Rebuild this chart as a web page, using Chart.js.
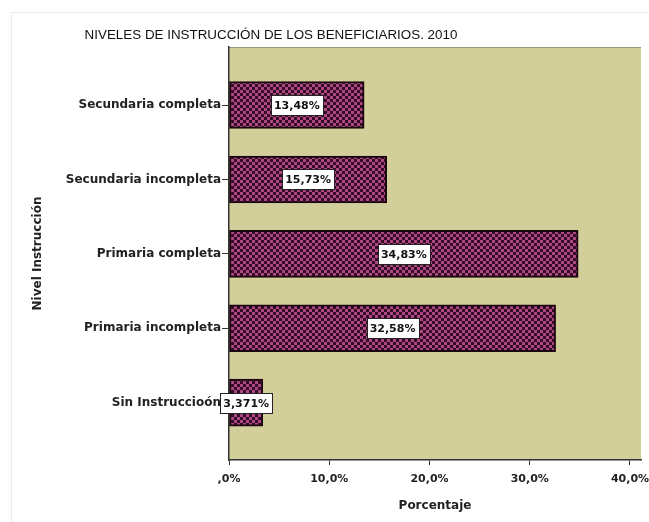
<!DOCTYPE html>
<html>
<head>
<meta charset="utf-8">
<script src="https://cdn.jsdelivr.net/npm/chart.js@4"></script>
<style>
  body { margin: 0; background: #fff; }
</style>
</head>
<body>
<canvas id="chart" width="649" height="522"></canvas>
<script>
// data, top bar first
const categories = [
  "Secundaria completa",
  "Secundaria incompleta",
  "Primaria completa",
  "Primaria incompleta",
  "Sin Instruccioón",
];
const percentages = [13.48, 15.73, 34.83, 32.58, 3.371];
const valueLabels = ["13,48%", "15,73%", "34,83%", "32,58%", "3,371%"];
const xTickValues = [0, 10, 20, 30, 40];
const xTickLabels = [",0%", "10,0%", "20,0%", "30,0%", "40,0%"];
const chartTitle = "NIVELES DE INSTRUCCIÓN DE LOS BENEFICIARIOS. 2010";

const n = categories.length;
const font = "'Liberation Sans', Arial, sans-serif";
const boldFont = "'DejaVu Sans', 'Liberation Sans', sans-serif";

// checkered fill like the SPSS bars
const pc = document.createElement("canvas");
pc.width = 6;
pc.height = 6;
const pctx = pc.getContext("2d");
pctx.fillStyle = "#360c25";
pctx.fillRect(0, 0, 6, 6);
pctx.fillStyle = "#ad4684";
pctx.fillRect(0, 0, 3, 3);
pctx.fillRect(3, 3, 3, 3);
const checker = pctx.createPattern(pc, "repeat");

const plotBg = {
  id: "plotBg",
  beforeDraw(chart) {
    const { ctx, chartArea: a } = chart;
    ctx.save();
    ctx.strokeStyle = "#ececec";
    ctx.strokeRect(11.5, 12.5, 660, 540);
    ctx.fillStyle = "#d3cf9b";
    ctx.fillRect(a.left, a.top, a.right - a.left, a.bottom - a.top);
    ctx.strokeStyle = "#9a9778";
    ctx.beginPath();
    ctx.moveTo(a.left, a.top + 0.5);
    ctx.lineTo(a.right, a.top + 0.5);
    ctx.stroke();
    ctx.restore();
  },
  afterDraw(chart) {
    const ctx = chart.ctx;
    ctx.save();
    ctx.fillStyle = "#111";
    ctx.font = "13.4px " + font;
    ctx.textAlign = "center";
    ctx.textBaseline = "middle";
    ctx.fillText(chartTitle, 271, 35);
    ctx.restore();
  },
};

const barLabels = {
  id: "barLabels",
  afterDatasetsDraw(chart) {
    const ctx = chart.ctx;
    const meta = chart.getDatasetMeta(0);
    ctx.save();
    ctx.font = "bold 11px " + boldFont;
    ctx.textAlign = "center";
    ctx.textBaseline = "middle";
    meta.data.forEach((bar, i) => {
      const { x, y, base } = bar.getProps(["x", "y", "base"], true);
      const cx = (x + base) / 2;
      const w = Math.round(ctx.measureText(valueLabels[i]).width + 6);
      const h = 20;
      const bx = Math.round(cx - w / 2) + 0.5;
      const by = Math.round(y - h / 2) + 0.5;
      ctx.fillStyle = "#fff";
      ctx.fillRect(bx, by, w, h);
      ctx.strokeStyle = "#222";
      ctx.lineWidth = 1;
      ctx.strokeRect(bx, by, w, h);
      ctx.fillStyle = "#111";
      ctx.fillText(valueLabels[i], cx, y + 1);
    });
    ctx.restore();
  },
};

new Chart(document.getElementById("chart"), {
  type: "bar",
  data: {
    datasets: [
      {
        data: percentages.map((v, i) => ({ x: v, y: n - 1 - i })),
        backgroundColor: checker,
        borderColor: "#1a0610",
        borderWidth: 2,
        borderSkipped: false,
        barThickness: 47,
      },
    ],
  },
  options: {
    responsive: false,
    animation: false,
    indexAxis: "y",
    layout: { padding: { top: 47, right: 8, left: 0, bottom: 0 } },
    scales: {
      x: {
        type: "linear",
        min: 0,
        max: 41.1,
        afterBuildTicks: (s) => {
          s.ticks = xTickValues.map((v) => ({ value: v }));
        },
        afterFit: (s) => {
          s.height = 62;
          s.paddingLeft = 0;
          s.paddingRight = 0;
        },
        grid: {
          drawOnChartArea: false,
          tickLength: 5,
          tickColor: "#333",
        },
        border: { display: true, color: "#333", width: 1.5 },
        ticks: {
          padding: 8,
          color: "#222",
          font: { family: boldFont, size: 11, weight: "bold" },
          callback: (v, i) => xTickLabels[i],
        },
        title: {
          display: true,
          text: "Porcentaje",
          color: "#222",
          font: { family: boldFont, size: 12, weight: "bold" },
          padding: { top: 0, bottom: 9 },
        },
      },
      y: {
        type: "linear",
        offset: false,
        min: -0.77,
        max: n - 1 + 0.78,
        afterBuildTicks: (s) => {
          s.ticks = categories.map((c, i) => ({ value: i }));
        },
        afterFit: (s) => {
          s.width = 229;
          s.paddingTop = 0;
          s.paddingBottom = 0;
        },
        grid: {
          offset: false,
          drawOnChartArea: false,
          tickLength: 7,
          tickColor: "#333",
        },
        border: { display: true, color: "#333", width: 1.5 },
        ticks: {
          padding: 1,
          color: "#222",
          font: { family: boldFont, size: 12, weight: "bold" },
          callback: (v) => categories[n - 1 - v],
        },
        title: {
          display: true,
          text: "Nivel Instrucción",
          color: "#222",
          font: { family: boldFont, size: 12, weight: "bold" },
          padding: { top: 31, bottom: 0 },
        },
      },
    },
    plugins: {
      legend: { display: false },
      tooltip: { enabled: false },
    },
  },
  plugins: [plotBg, barLabels],
});
</script>
</body>
</html>
